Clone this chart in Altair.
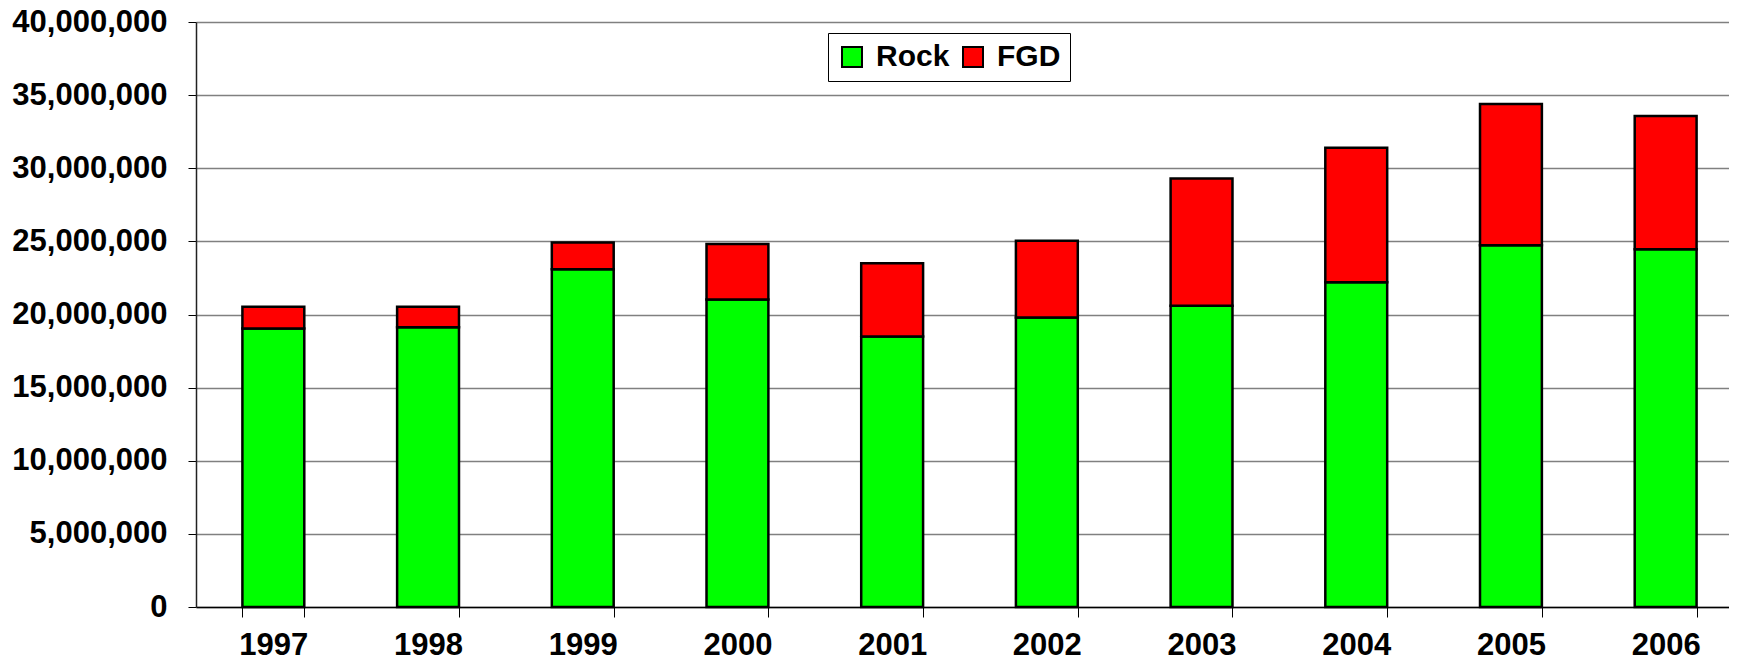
import altair as alt
import pandas as pd

years = ["1997", "1998", "1999", "2000", "2001", "2002", "2003", "2004", "2005", "2006"]
rock = [19040000, 19130000, 23100000, 21030000, 18500000, 19800000, 20600000, 22200000, 24740000, 24470000]
fgd = [1490000, 1400000, 1830000, 3790000, 5010000, 5240000, 8700000, 9200000, 9660000, 9100000]
series = ["Rock", "FGD"]
colors = ["#00FF00", "#FF0000"]
y_ticks = [0, 5000000, 10000000, 15000000, 20000000, 25000000, 30000000, 35000000, 40000000]

rows = []
for i, yr in enumerate(years):
    rows.append({"year": yr, "series": "Rock", "value": rock[i], "ord": 0})
    rows.append({"year": yr, "series": "FGD", "value": fgd[i], "ord": 1})
df = pd.DataFrame(rows)

FONT = "Liberation Sans"

chart = alt.Chart(df).mark_bar(stroke="black", strokeWidth=2.5).encode(
    x=alt.X(
        "year:N",
        sort=years,
        scale=alt.Scale(paddingInner=0.6, paddingOuter=0.3, range=[0, 1547]),
        axis=alt.Axis(
            title=None, labelAngle=0, labelFont=FONT, labelFontSize=31,
            labelFontWeight="bold", labelColor="black", domainColor="black",
            domainWidth=1.5, tickColor="black", tickSize=10, tickWidth=1,
            tickBand="extent", labelPadding=13, grid=False,
        ),
    ),
    y=alt.Y(
        "value:Q",
        stack="zero",
        scale=alt.Scale(domain=[0, 40000000], nice=False),
        axis=alt.Axis(
            title=None, values=y_ticks, format=",d", labelFont=FONT,
            labelFontSize=31, labelFontWeight="bold", labelColor="black",
            domainColor="#222222", domainWidth=1.5, tickColor="black",
            tickSize=8, tickWidth=1, labelPadding=21, grid=True,
            gridColor="#808080", gridWidth=1.5,
        ),
    ),
    color=alt.Color(
        "series:N",
        sort=series,
        scale=alt.Scale(domain=series, range=colors),
        legend=alt.Legend(
            orient="none", legendX=632, legendY=11, direction="horizontal",
            title=None, symbolType="square", symbolSize=400,
            symbolStrokeColor="black", symbolStrokeWidth=2,
            labelFont=FONT, labelFontSize=30, labelFontWeight="bold",
            labelColor="black", fillColor="white", strokeColor="black",
            padding=9, labelOffset=9, columnPadding=8, labelLimit=300,
        ),
    ),
    order=alt.Order("ord:Q", sort="ascending"),
).properties(
    width=1533,
    height=585,
    autosize=alt.AutoSizeParams(type="none"),
    padding={"left": 188, "top": 14, "right": 0, "bottom": 55},
).configure_view(stroke=None)

chart.save("out.html", embed_options={"renderer": "svg", "actions": False})
